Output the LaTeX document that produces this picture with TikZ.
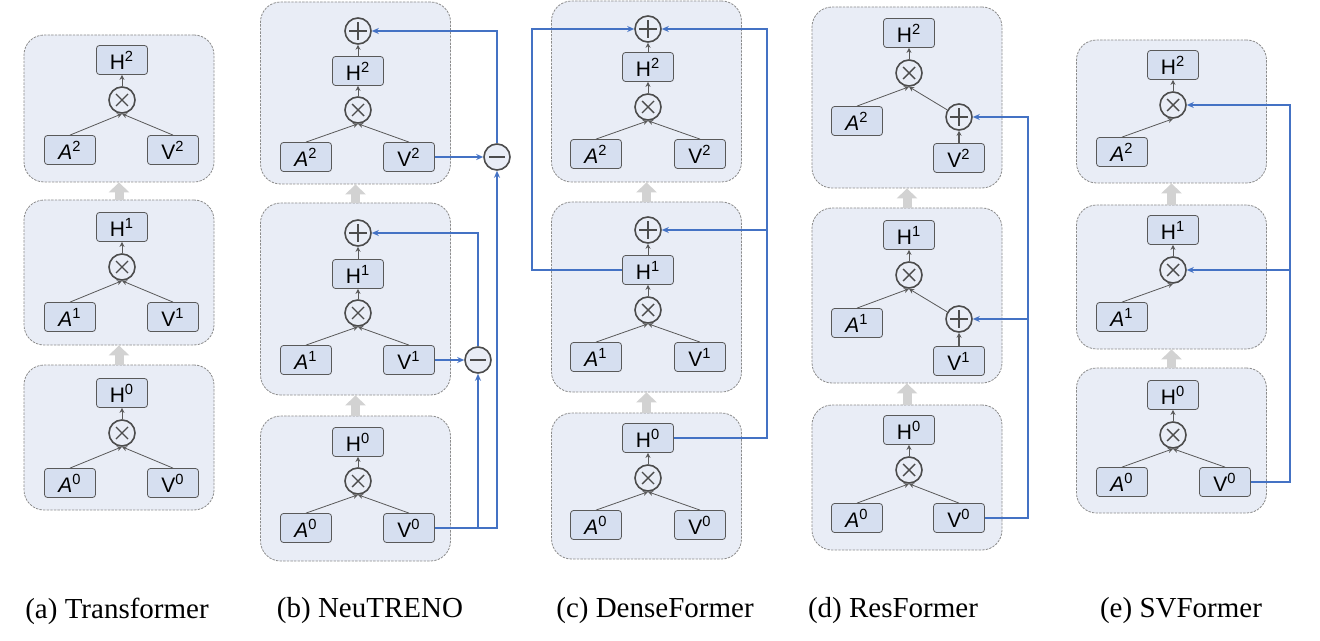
\documentclass[tikz,border=0pt]{standalone}
\usepackage{fontspec}
\setmainfont{Liberation Serif}
\setsansfont{Liberation Sans}
\usetikzlibrary{arrows.meta}
\definecolor{lineblue}{HTML}{4472C4}
\definecolor{blockfill}{HTML}{E9EDF6}
\definecolor{boxfill}{HTML}{D6DFF0}

\begin{document}
\begin{tikzpicture}[x=0.5pt, y=-0.5pt,
	block/.style = {draw=gray!90, dash pattern=on 1.2pt off 0.6pt, fill=blockfill, rounded corners=10pt, minimum width=95pt},
	main/.style = {draw=gray!70!black, fill=boxfill, rounded corners=1.5pt, minimum width=25.5pt, minimum height=14.5pt, inner sep=0pt, font=\sffamily\fontsize{10.5}{12}\selectfont},
	op/.style = {circle, draw=gray!60!black, fill=blockfill, line width=0.8pt, minimum size=13pt, inner sep=0pt},
	mul/.style = {op, path picture={\draw[gray!60!black, line width=0.7pt, shift={(path picture bounding box.center)}] (-3pt,-3pt) -- (3pt,3pt) (-3pt,3pt) -- (3pt,-3pt);}},
	add/.style = {op, path picture={\draw[gray!60!black, line width=0.8pt, shift={(path picture bounding box.center)}] (-4.5pt,0) -- (4.5pt,0) (0,-4.5pt) -- (0,4.5pt);}},
	sub/.style = {op, path picture={\draw[gray!60!black, line width=0.8pt, shift={(path picture bounding box.center)}] (-4pt,0) -- (4pt,0);}},
	flow/.style = {draw=gray!70!black, line width=0.4pt, -{Stealth[length=2.5pt, width=2.5pt]}},
	up/.style = {draw=gray!35, line width=4.5pt, -{Triangle[length=5pt, width=10pt]}},
	res/.style = {draw=lineblue, line width=0.7pt, -{Stealth[length=3.5pt, width=3pt]}},
	caption/.style = {font=\fontsize{14.5}{16}\selectfont}]
	\useasboundingbox (0,0) rectangle (1320,641);

	%% Blocks
	\node[block, minimum height=73.5pt] (a2) at (119,108.5) {};
	\node[block, minimum height=72.5pt] (a1) at (119,272.5) {};
	\node[block, minimum height=72.5pt] (a0) at (119,437.5) {};

	\node[block, minimum height=91pt] (b2) at (355.5,93) {};
	\node[block, minimum height=96pt] (b1) at (355.5,299) {};
	\node[block, minimum height=72.5pt] (b0) at (355.5,488.5) {};

	\node[block, minimum height=90.5pt] (c2) at (646.5,91.5) {};
	\node[block, minimum height=95pt] (c1) at (646.5,297) {};
	\node[block, minimum height=73pt] (c0) at (646.5,486) {};

	\node[block, minimum height=90.5pt] (d2) at (907,97.5) {};
	\node[block, minimum height=87.5pt] (d1) at (907,295.5) {};
	\node[block, minimum height=72.5pt] (d0) at (907,477.5) {};

	\node[block, minimum height=71.5pt] (e2) at (1171.5,111.5) {};
	\node[block, minimum height=72pt] (e1) at (1171.5,277) {};
	\node[block, minimum height=72.5pt] (e0) at (1171.5,440.5) {};

	\foreach \p in {a,b,c,d,e}{
		\draw[up] (\p0.north) -- (\p1.south);
		\draw[up] (\p1.north) -- (\p2.south);
	}

	%% Nodes
	% (a) Transformer
	\foreach \l/\y in {0/393,1/227,2/60}{
		\node[main] (aH\l) at (122,\y) {H\textsuperscript{\l}};
		\node[mul] (aX\l) at (122,\y+40) {};
		\node[main] (aA\l) at (70,\y+90) {{\itshape A}\textsuperscript{\l}};
		\node[main] (aV\l) at (173,\y+90) {V\textsuperscript{\l}};
		\draw[flow] (aA\l.north) -- (aX\l.south);
		\draw[flow] (aV\l.north) -- (aX\l.south);
		\draw[flow] (aX\l) -- (aH\l);
	}

	% (b) NeuTRENO
	\foreach \l/\y in {0/442,1/274,2/71}{
		\node[main] (bH\l) at (358,\y) {H\textsuperscript{\l}};
		\node[mul] (bX\l) at (358,\y+39) {};
		\node[main] (bA\l) at (306,\y+86) {{\itshape A}\textsuperscript{\l}};
		\node[main] (bV\l) at (409,\y+86) {V\textsuperscript{\l}};
		\draw[flow] (bA\l.north) -- (bX\l.south);
		\draw[flow] (bV\l.north) -- (bX\l.south);
		\draw[flow] (bX\l) -- (bH\l);
	}
	\node[add] (bP2) at (358,31) {};
	\node[add] (bP1) at (358,233) {};
	\node[sub] (bM2) at (497,157) {};
	\node[sub] (bM1) at (478,360) {};

	% (c) DenseFormer
	\foreach \l/\y in {0/438,1/270,2/67}{
		\node[main] (cH\l) at (648,\y) {H\textsuperscript{\l}};
		\node[mul] (cX\l) at (648,\y+40) {};
		\node[main] (cA\l) at (596,\y+87) {{\itshape A}\textsuperscript{\l}};
		\node[main] (cV\l) at (700,\y+87) {V\textsuperscript{\l}};
		\draw[flow] (cA\l.north) -- (cX\l.south);
		\draw[flow] (cV\l.north) -- (cX\l.south);
		\draw[flow] (cX\l) -- (cH\l);
	}
	\node[add] (cP2) at (648,29) {};
	\node[add] (cP1) at (648,230) {};
	\coordinate (cl) at (532,0);
	\coordinate (cr) at (767,0);

	% (d) ResFormer
	\foreach \l/\y in {0/430,1/235,2/33}{
		\node[main] (dH\l) at (909,\y) {H\textsuperscript{\l}};
		\node[mul] (dX\l) at (909,\y+40) {};
		\node[main] (dA\l) at (857,\y+88) {{\itshape A}\textsuperscript{\l}};
	}
	\node[main] (dV0) at (959,518) {V\textsuperscript{0}};
	\node[add] (dP1) at (959,319) {};
	\node[main] (dV1) at (959,361) {V\textsuperscript{1}};
	\node[add] (dP2) at (959,117) {};
	\node[main] (dV2) at (959,158) {V\textsuperscript{2}};
	\coordinate (dr) at (1028,0);

	% (e) SVFormer
	\foreach \l/\y in {0/395,1/230,2/65}{
		\node[main] (eH\l) at (1173,\y) {H\textsuperscript{\l}};
		\node[mul] (eX\l) at (1173,\y+40) {};
		\node[main] (eA\l) at (1122,\y+87) {{\itshape A}\textsuperscript{\l}};
		\draw[flow] (eA\l.north) -- (eX\l.south);
		\draw[flow] (eX\l) -- (eH\l);
	}
	\node[main] (eV0) at (1225,482) {V\textsuperscript{0}};
	\coordinate (er) at (1290,0);

	% captions
	\node[caption] (capa) at (117,611) {(a) Transformer};
	\node[caption] (capb) at (370,611) {(b) NeuTRENO};
	\node[caption] (capc) at (655,611) {(c) DenseFormer};
	\node[caption] (capd) at (893,611) {(d) ResFormer};
	\node[caption] (cape) at (1181,611) {(e) SVFormer};

	%% Edges
	\draw[flow] (bH2) -- (bP2);
	\draw[flow] (bH1) -- (bP1);
	\draw[res, line width=1pt] (bV2) -- (bM2);
	\draw[res] (bV1) -- (bM1);
	\draw[res] (bV0) -| (bM2);
	\draw[res] (bV0 -| bM1) -- (bM1);
	\draw[res] (bM2) |- (bP2);
	\draw[res] (bM1) |- (bP1);

	\draw[flow] (cH2) -- (cP2);
	\draw[flow] (cH1) -- (cP1);
	\draw[res, line width=1pt] (cH1) -| (cl |- cP2) -- (cP2);
	\draw[res] (cH0) -| (cr |- cP2) -- (cP2);
	\draw[res] (cr |- cP1) -- (cP1);

	\foreach \l in {0,1,2}{
		\draw[flow] (dA\l.north) -- (dX\l.south);
		\draw[flow] (dX\l) -- (dH\l);
	}
	\draw[flow] (dV0.north) -- (dX0.south);
	\draw[flow] (dP1) -- (dX1.south);
	\draw[flow] (dP2) -- (dX2.south);
	\draw[flow, line width=1pt] (dV1) -- (dP1);
	\draw[flow, line width=1pt] (dV2) -- (dP2);
	\draw[res] (dV0) -| (dr |- dP2) -- (dP2);
	\draw[res] (dr |- dP1) -- (dP1);

	\draw[flow] (eV0.north) -- (eX0.south);
	\draw[res] (eV0) -| (er |- eX2) -- (eX2);
	\draw[res] (er |- eX1) -- (eX1);
\end{tikzpicture}
\end{document}
